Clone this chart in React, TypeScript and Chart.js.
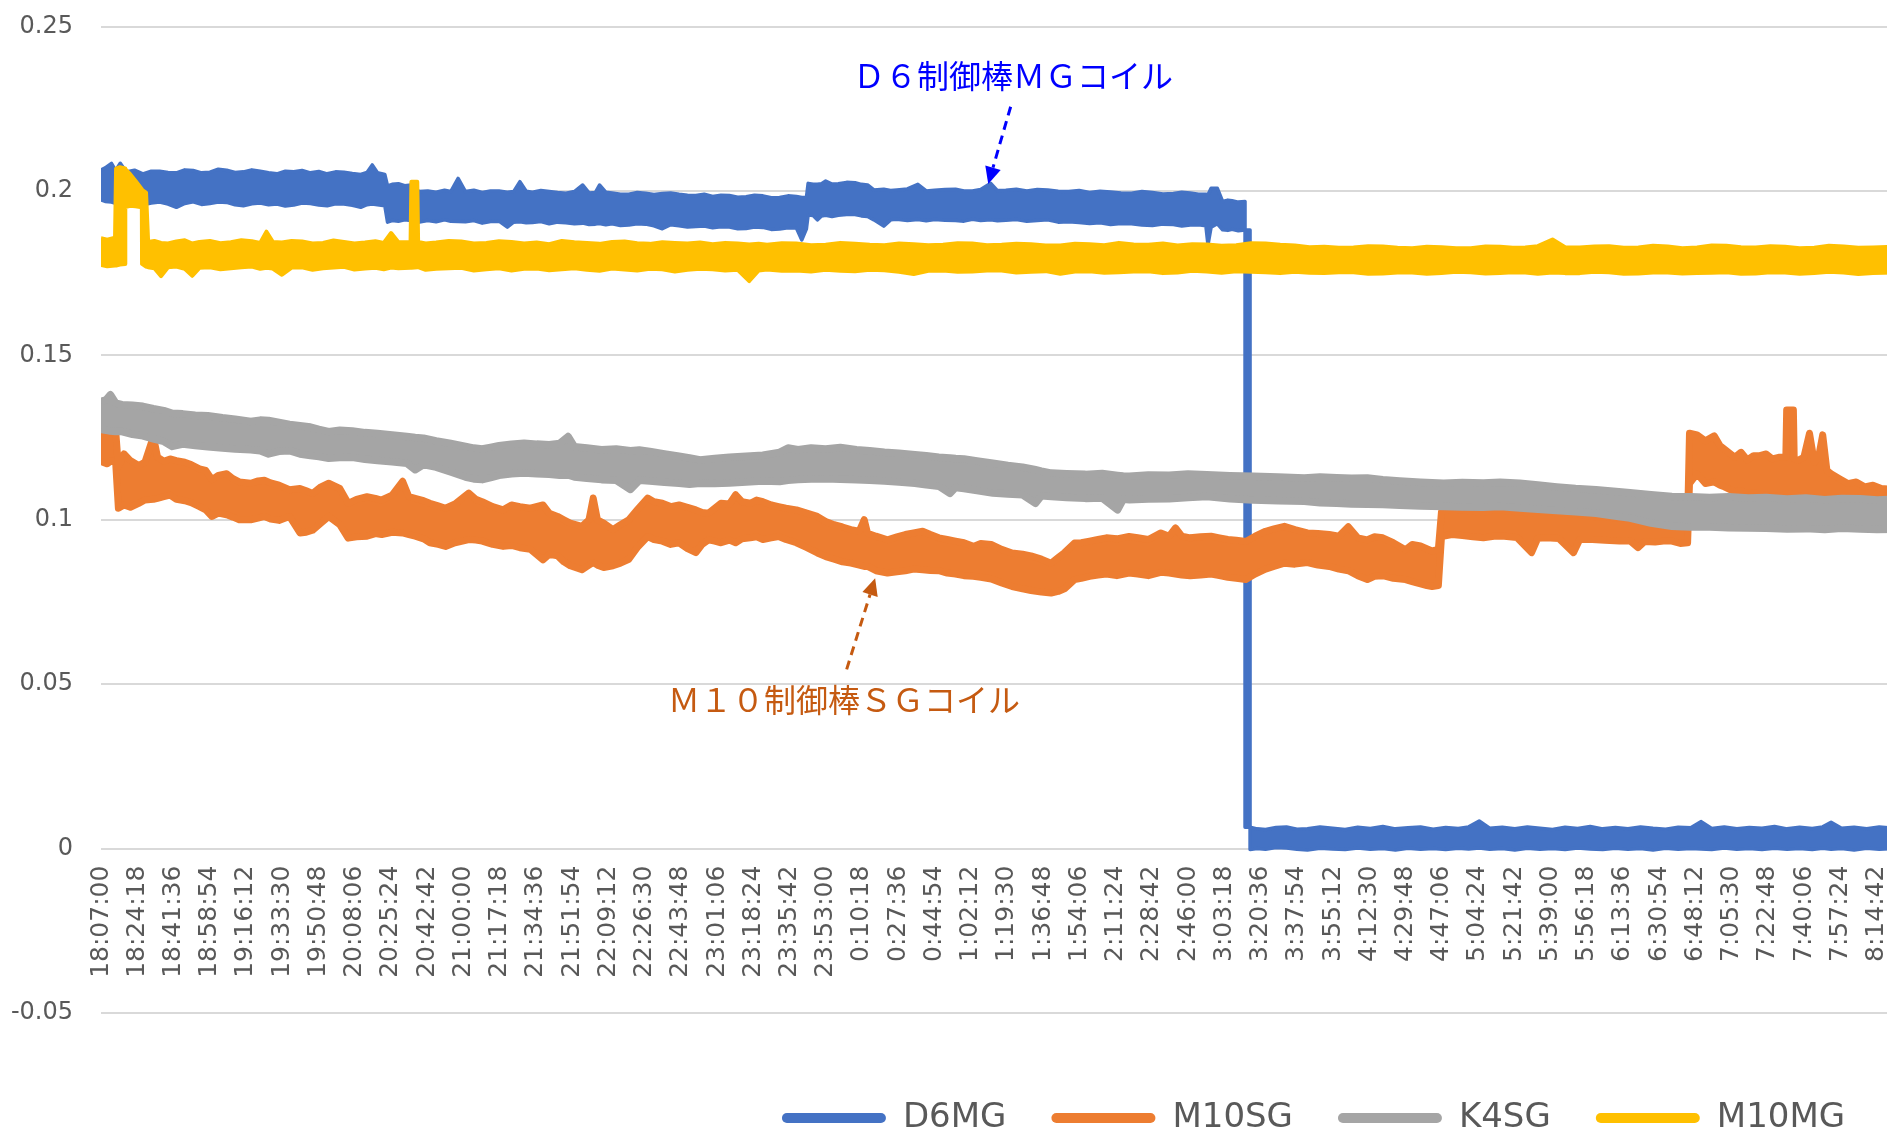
import React, { useEffect, useRef } from 'react';
import { Chart, registerables } from 'chart.js';

Chart.register(...registerables);

// ---------- axis data ----------
// x values are minutes elapsed since 18:07:00; one category label every 17 min 18 s
const TICK_STEP_MIN = 17.3;
const TICK_LABELS = [
  '18:07:00', '18:24:18', '18:41:36', '18:58:54', '19:16:12', '19:33:30', '19:50:48', '20:08:06',
  '20:25:24', '20:42:42', '21:00:00', '21:17:18', '21:34:36', '21:51:54', '22:09:12', '22:26:30',
  '22:43:48', '23:01:06', '23:18:24', '23:35:42', '23:53:00', '0:10:18', '0:27:36', '0:44:54',
  '1:02:12', '1:19:30', '1:36:48', '1:54:06', '2:11:24', '2:28:42', '2:46:00', '3:03:18',
  '3:20:36', '3:37:54', '3:55:12', '4:12:30', '4:29:48', '4:47:06', '5:04:24', '5:21:42',
  '5:39:00', '5:56:18', '6:13:36', '6:30:54', '6:48:12', '7:05:30', '7:22:48', '7:40:06',
  '7:57:24', '8:14:42',
];
const X_RANGE_MIN = 0;
const X_RANGE_MAX = 1206;
const Y_TICKS = [-0.05, 0, 0.05, 0.1, 0.15, 0.2, 0.25];
const Y_TICK_LABELS = ['-0.05', '0', '0.05', '0.1', '0.15', '0.2', '0.25'];

// ---------- series ----------
const SERIES_NAMES = ['D6MG', 'M10SG', 'K4SG', 'M10MG'];
const SERIES_COLORS = ['#4472C4', '#ED7D31', '#A5A5A5', '#FFC000'];
const SERIES_EDGE_WIDTHS = [3.5, 7, 7.5, 4];

// rows: [minutes, upper edge of noisy band, lower edge of noisy band]
const D6MG = [
  [0, 0.2064, 0.1973], [2, 0.2070, 0.1968], [5, 0.2084, 0.1966], [7, 0.2062, 0.1962], [9.2, 0.2084, 0.1967],
  [12, 0.2058, 0.1965], [16, 0.2063, 0.1960], [20, 0.2052, 0.1958], [24, 0.2060, 0.1963], [28, 0.2060, 0.1966],
  [32, 0.2056, 0.1960], [36, 0.2055, 0.1950], [40, 0.2064, 0.1962], [44, 0.2062, 0.1967], [48, 0.2055, 0.1959],
  [52, 0.2057, 0.1962], [56, 0.2066, 0.1966], [60, 0.2063, 0.1965], [64, 0.2056, 0.1958], [68, 0.2058, 0.1955],
  [72, 0.2064, 0.1961], [76, 0.2060, 0.1963], [80, 0.2055, 0.1958], [84, 0.2052, 0.1960], [88, 0.2060, 0.1954],
  [92, 0.2058, 0.1957], [96, 0.2062, 0.1963], [100, 0.2055, 0.1962], [104, 0.2059, 0.1957], [108, 0.2052, 0.1955],
  [112, 0.2058, 0.1961], [116, 0.2057, 0.1960], [120, 0.2053, 0.1956], [124, 0.2050, 0.1950], [127, 0.2056, 0.1958],
  [129.5, 0.2079, 0.1960], [132, 0.2055, 0.1958], [135.5, 0.2050, 0.1955], [136.8, 0.2015, 0.1905], [139, 0.2020, 0.1910],
  [142, 0.2022, 0.1908], [145, 0.2016, 0.1912], [148, 0.2018, 0.1910], [152, 0.1998, 0.1905], [156, 0.2000, 0.1910],
  [160, 0.1996, 0.1906], [164, 0.2002, 0.1912], [167, 0.1998, 0.1908], [170.5, 0.2038, 0.1907], [174, 0.1998, 0.1906],
  [178, 0.2002, 0.1910], [182, 0.1995, 0.1902], [186, 0.2000, 0.1907], [190, 0.2000, 0.1908], [194, 0.1996, 0.1890],
  [197, 0.1998, 0.1905], [200, 0.2028, 0.1906], [203, 0.1999, 0.1903], [206, 0.1996, 0.1904], [210, 0.2001, 0.1907],
  [214, 0.1998, 0.1900], [218, 0.1995, 0.1905], [222, 0.1993, 0.1903], [226, 0.1998, 0.1900], [230, 0.2018, 0.1902],
  [233, 0.1994, 0.1898], [236, 0.1995, 0.1899], [238, 0.2018, 0.1901], [241, 0.1996, 0.1897], [244, 0.1994, 0.1900],
  [248, 0.1990, 0.1895], [252, 0.1990, 0.1896], [256, 0.1995, 0.1900], [260, 0.1993, 0.1899], [264, 0.1989, 0.1894],
  [268, 0.1992, 0.1885], [272, 0.1994, 0.1897], [276, 0.1990, 0.1894], [280, 0.1987, 0.1890], [284, 0.1986, 0.1892],
  [288, 0.1990, 0.1893], [292, 0.1983, 0.1888], [296, 0.1987, 0.1891], [300, 0.1986, 0.1890], [304, 0.1981, 0.1885],
  [308, 0.1982, 0.1886], [312, 0.1987, 0.1890], [316, 0.1985, 0.1889], [320, 0.1979, 0.1883], [324, 0.1980, 0.1884],
  [328, 0.1985, 0.1888], [332, 0.1983, 0.1887], [334.6, 0.1980, 0.1851], [336.8, 0.1980, 0.1885], [337.6, 0.2023, 0.1927],
  [340, 0.2020, 0.1925], [342, 0.2020, 0.1912], [344, 0.2022, 0.1924], [346, 0.2030, 0.1926], [349, 0.2021, 0.1922],
  [352, 0.2022, 0.1926], [356, 0.2026, 0.1928], [360, 0.2025, 0.1928], [363, 0.2020, 0.1924], [366, 0.2018, 0.1922],
  [369, 0.2003, 0.1912], [373.7, 0.2005, 0.1893], [377, 0.2001, 0.1912], [380, 0.2003, 0.1914], [385, 0.2006, 0.1910],
  [390, 0.2020, 0.1913], [394, 0.2000, 0.1909], [398, 0.2002, 0.1913], [403, 0.2004, 0.1911], [408, 0.2005, 0.1910],
  [412, 0.2000, 0.1908], [416, 0.2000, 0.1914], [420, 0.2004, 0.1910], [424.8, 0.2023, 0.1912], [428, 0.2001, 0.1909],
  [432, 0.2002, 0.1911], [437, 0.2005, 0.1913], [442, 0.2000, 0.1908], [447, 0.2004, 0.1910], [452, 0.2003, 0.1912],
  [457, 0.1999, 0.1905], [462, 0.1998, 0.1906], [467, 0.2001, 0.1904], [472, 0.1995, 0.1901], [477, 0.1999, 0.1903],
  [482, 0.1997, 0.1898], [487, 0.1994, 0.1901], [492, 0.1993, 0.1900], [497, 0.1998, 0.1896], [502, 0.1995, 0.1895],
  [507, 0.1991, 0.1899], [512, 0.1992, 0.1898], [516, 0.1996, 0.1893], [520, 0.1994, 0.1896], [524, 0.1990, 0.1897],
  [527.5, 0.1990, 0.1894], [528.5, 0.1988, 0.1836], [530, 0.2008, 0.1890], [533, 0.2008, 0.1900], [535.5, 0.1968, 0.1882],
  [538, 0.1972, 0.1880], [540, 0.1970, 0.1883], [543, 0.1966, 0.1879], [546.2, 0.1968, 0.1881], [546.2, 0.0065, 0.1881],
  [548.6, 0.0065, 0.1881], [548.6, 0.0065, -0.0003], [552, 0.0060, 0.0000], [556, 0.0058, -0.0002], [561, 0.0064, 0.0003],
  [566, 0.0066, 0.0002], [571, 0.0059, -0.0002], [576, 0.0060, -0.0004], [582, 0.0066, 0.0001], [588, 0.0062, -0.0001],
  [594, 0.0058, -0.0003], [600, 0.0065, 0.0002], [606, 0.0061, -0.0002], [612, 0.0067, 0.0000], [618, 0.0060, -0.0004],
  [624, 0.0063, 0.0001], [630, 0.0066, -0.0002], [636, 0.0059, 0.0000], [642, 0.0064, -0.0003], [648, 0.0061, 0.0001],
  [653, 0.0066, -0.0001], [658, 0.0084, 0.0002], [663, 0.0062, -0.0002], [669, 0.0065, 0.0000], [675, 0.0060, -0.0004],
  [681, 0.0066, 0.0001], [687, 0.0062, -0.0002], [693, 0.0058, 0.0000], [699, 0.0065, -0.0003], [705, 0.0061, 0.0002],
  [711, 0.0067, -0.0001], [717, 0.0060, -0.0003], [723, 0.0064, 0.0001], [729, 0.0060, -0.0002], [735, 0.0066, 0.0000],
  [741, 0.0062, -0.0004], [747, 0.0059, 0.0001], [753, 0.0065, -0.0002], [759, 0.0063, 0.0000], [764, 0.0082, -0.0001],
  [769, 0.0061, -0.0003], [775, 0.0066, 0.0002], [781, 0.0060, -0.0002], [787, 0.0064, 0.0000], [793, 0.0062, -0.0003],
  [799, 0.0067, 0.0001], [805, 0.0060, -0.0002], [811, 0.0065, 0.0000], [817, 0.0061, -0.0003], [822, 0.0066, 0.0001],
  [826, 0.0080, -0.0002], [831, 0.0062, 0.0000], [837, 0.0065, -0.0004], [843, 0.0060, 0.0001], [849, 0.0066, -0.0002],
  [856, 0.0062, 0.0000],
];

const M10SG = [
  [0, 0.1274, 0.1177], [3, 0.1280, 0.1170], [5, 0.1265, 0.1180], [7, 0.1272, 0.1175], [8.3, 0.1160, 0.1035],
  [11, 0.1200, 0.1045], [14, 0.1180, 0.1038], [18, 0.1165, 0.1050], [21, 0.1175, 0.1060], [25, 0.1253, 0.1062],
  [27, 0.1190, 0.1065], [30, 0.1178, 0.1070], [33, 0.1185, 0.1075], [36, 0.1180, 0.1062], [40, 0.1175, 0.1058],
  [43, 0.1168, 0.1052], [47, 0.1155, 0.1040], [50, 0.1150, 0.1030], [53, 0.1122, 0.1010], [56, 0.1135, 0.1020],
  [60, 0.1140, 0.1015], [63, 0.1125, 0.1008], [66, 0.1115, 0.1000], [71.5, 0.1111, 0.1000], [75, 0.1118, 0.1005],
  [78, 0.1120, 0.1010], [81, 0.1112, 0.1002], [85, 0.1105, 0.0998], [90, 0.1091, 0.1010], [95, 0.1095, 0.0960],
  [98, 0.1088, 0.0962], [101, 0.1080, 0.0968], [105, 0.1100, 0.0990], [108.7, 0.1111, 0.1010], [114, 0.1095, 0.0985],
  [118, 0.1050, 0.0944], [122, 0.1062, 0.0948], [127, 0.1070, 0.0950], [131, 0.1065, 0.0958], [134, 0.1060, 0.0955],
  [139, 0.1075, 0.0962], [144, 0.1117, 0.0960], [147, 0.1070, 0.0955], [150, 0.1065, 0.0950], [154, 0.1058, 0.0942],
  [157, 0.1050, 0.0930], [161, 0.1042, 0.0925], [164.5, 0.1035, 0.0919], [169, 0.1048, 0.0930], [175.6, 0.1081, 0.0940],
  [179, 0.1062, 0.0938], [182, 0.1055, 0.0935], [187, 0.1040, 0.0925], [192, 0.1030, 0.0919], [196, 0.1045, 0.0922],
  [200, 0.1040, 0.0915], [205, 0.1035, 0.0910], [211, 0.1045, 0.0878], [214, 0.1020, 0.0895], [218, 0.1010, 0.0890],
  [221, 0.1000, 0.0872], [224, 0.0990, 0.0860], [229.6, 0.0980, 0.0848], [233, 0.1000, 0.0862], [235, 0.1066, 0.0870],
  [237, 0.1000, 0.0862], [240, 0.0990, 0.0855], [244.4, 0.0970, 0.0860], [248, 0.0985, 0.0868], [252, 0.1000, 0.0880],
  [256, 0.1030, 0.0915], [261, 0.1066, 0.0949], [264, 0.1055, 0.0940], [268, 0.1050, 0.0935], [272, 0.1040, 0.0925],
  [276, 0.1045, 0.0930], [280, 0.1038, 0.0912], [284, 0.1030, 0.0900], [287, 0.1022, 0.0925], [290, 0.1020, 0.0939],
  [293, 0.1035, 0.0935], [296, 0.1050, 0.0930], [300, 0.1048, 0.0938], [303, 0.1076, 0.0930], [306, 0.1055, 0.0942],
  [310, 0.1050, 0.0945], [313, 0.1060, 0.0948], [316, 0.1055, 0.0940], [320, 0.1045, 0.0945], [323.5, 0.1040, 0.0949],
  [327, 0.1035, 0.0940], [332, 0.1030, 0.0930], [337, 0.1020, 0.0915], [342, 0.1010, 0.0899], [346, 0.0995, 0.0888],
  [350, 0.0985, 0.0880], [354, 0.0978, 0.0872], [358, 0.0970, 0.0868], [362, 0.0965, 0.0862], [364.4, 0.1000, 0.0858],
  [366, 0.0959, 0.0858], [370, 0.0950, 0.0845], [375.5, 0.0939, 0.0838], [380, 0.0948, 0.0842], [384, 0.0955, 0.0845],
  [388, 0.0960, 0.0850], [392.3, 0.0965, 0.0848], [396, 0.0955, 0.0846], [400, 0.0945, 0.0845], [404, 0.0940, 0.0838],
  [408, 0.0935, 0.0835], [412, 0.0930, 0.0830], [416.5, 0.0919, 0.0828], [420, 0.0928, 0.0825], [425, 0.0925, 0.0820],
  [430, 0.0910, 0.0808], [435, 0.0899, 0.0797], [440, 0.0895, 0.0790], [444, 0.0890, 0.0785], [449, 0.0880, 0.0780],
  [453.6, 0.0868, 0.0777], [457, 0.0885, 0.0782], [460, 0.0900, 0.0790], [464.8, 0.0929, 0.0818], [468, 0.0930, 0.0822],
  [472, 0.0935, 0.0828], [476, 0.0940, 0.0832], [480, 0.0945, 0.0835], [485, 0.0942, 0.0830], [490.8, 0.0949, 0.0838],
  [495, 0.0945, 0.0835], [500, 0.0940, 0.0830], [506, 0.0960, 0.0840], [510, 0.0950, 0.0838], [513, 0.0975, 0.0835],
  [516, 0.0950, 0.0832], [520, 0.0945, 0.0830], [525, 0.0948, 0.0832], [530, 0.0950, 0.0835], [534, 0.0945, 0.0830],
  [538, 0.0940, 0.0825], [542, 0.0938, 0.0822], [546.6, 0.0934, 0.0818], [551, 0.0950, 0.0835], [556, 0.0965, 0.0850],
  [560, 0.0972, 0.0858], [565, 0.0980, 0.0868], [570, 0.0970, 0.0865], [576, 0.0960, 0.0870], [581, 0.0958, 0.0862],
  [586.4, 0.0955, 0.0858], [591, 0.0950, 0.0850], [595.5, 0.0979, 0.0845], [600, 0.0945, 0.0830], [604.6, 0.0939, 0.0818],
  [608, 0.0948, 0.0828], [612, 0.0945, 0.0830], [617, 0.0930, 0.0822], [622.8, 0.0909, 0.0818], [626, 0.0925, 0.0812],
  [630, 0.0920, 0.0805], [633, 0.0912, 0.0800], [635.5, 0.0905, 0.0797], [638.5, 0.0910, 0.0800], [640, 0.1025, 0.0949],
  [645, 0.1032, 0.0955], [650, 0.1030, 0.0952], [655, 0.1026, 0.0948], [660, 0.1022, 0.0945], [665, 0.1030, 0.0950],
  [670, 0.1028, 0.0950], [676, 0.1024, 0.0946], [683, 0.1020, 0.0900], [686, 0.1022, 0.0944], [690, 0.1025, 0.0945],
  [696, 0.1020, 0.0943], [703, 0.1018, 0.0900], [706, 0.1016, 0.0940], [712, 0.1010, 0.0940], [718, 0.1008, 0.0938],
  [725, 0.1005, 0.0935], [730, 0.1006, 0.0936], [733.8, 0.1002, 0.0915], [737, 0.1004, 0.0934], [742, 0.1000, 0.0932],
  [746, 0.1003, 0.0935], [750, 0.1003, 0.0935], [754, 0.1000, 0.0928], [757.5, 0.0998, 0.0930], [758.4, 0.1263, 0.1110],
  [762, 0.1258, 0.1140], [766, 0.1240, 0.1110], [770.2, 0.1255, 0.1115], [773, 0.1225, 0.1105], [775, 0.1215, 0.1100],
  [780, 0.1190, 0.1085], [783, 0.1205, 0.1088], [786, 0.1182, 0.1081], [789, 0.1195, 0.1082], [792, 0.1195, 0.1078],
  [795, 0.1200, 0.1075], [798, 0.1185, 0.1070], [801, 0.1190, 0.1072], [804.4, 0.1190, 0.1075], [804.8, 0.1334, 0.1078],
  [808, 0.1334, 0.1080], [808.4, 0.1185, 0.1078], [810, 0.1180, 0.1072], [813, 0.1190, 0.1070], [815.7, 0.1263, 0.1068],
  [818, 0.1175, 0.1065], [820, 0.1190, 0.1064], [822, 0.1258, 0.1062], [824, 0.1150, 0.1060], [826, 0.1140, 0.1060],
  [830, 0.1125, 0.1052], [834, 0.1110, 0.1045], [838, 0.1115, 0.1048], [842, 0.1100, 0.1045], [846, 0.1105, 0.1050],
  [850, 0.1095, 0.1050], [856, 0.1092, 0.1045],
];

const K4SG = [
  [0, 0.1360, 0.1275], [2.5, 0.1365, 0.1272], [4.5, 0.1380, 0.1270], [7, 0.1355, 0.1268], [10, 0.1350, 0.1268],
  [15, 0.1348, 0.1260], [20, 0.1345, 0.1255], [25, 0.1338, 0.1246], [30, 0.1332, 0.1238], [34, 0.1324, 0.1223],
  [39, 0.1322, 0.1230], [45, 0.1318, 0.1226], [51, 0.1316, 0.1222], [58, 0.1310, 0.1218], [64, 0.1306, 0.1215],
  [71.5, 0.1299, 0.1213], [76, 0.1303, 0.1210], [80, 0.1302, 0.1200], [85, 0.1296, 0.1208], [90, 0.1290, 0.1210],
  [95, 0.1286, 0.1200], [100, 0.1282, 0.1195], [104, 0.1275, 0.1192], [108.7, 0.1268, 0.1187], [114, 0.1272, 0.1189],
  [120, 0.1270, 0.1190], [126, 0.1265, 0.1184], [132, 0.1262, 0.1180], [139, 0.1258, 0.1176], [146, 0.1253, 0.1172],
  [150, 0.1250, 0.1152], [154, 0.1248, 0.1168], [160, 0.1240, 0.1160], [167, 0.1232, 0.1145], [174, 0.1223, 0.1130],
  [178, 0.1218, 0.1124], [182, 0.1215, 0.1122], [186, 0.1220, 0.1128], [190, 0.1225, 0.1135], [196, 0.1230, 0.1140],
  [202, 0.1233, 0.1142], [208, 0.1230, 0.1140], [214, 0.1228, 0.1138], [219, 0.1232, 0.1135], [223, 0.1253, 0.1136],
  [226, 0.1222, 0.1130], [232, 0.1218, 0.1126], [239, 0.1213, 0.1122], [246, 0.1215, 0.1120], [252.8, 0.1210, 0.1092],
  [257, 0.1212, 0.1120], [262, 0.1208, 0.1118], [269, 0.1200, 0.1114], [276, 0.1193, 0.1111], [281, 0.1188, 0.1108],
  [286, 0.1182, 0.1111], [293, 0.1186, 0.1110], [300, 0.1190, 0.1112], [308, 0.1193, 0.1115], [316, 0.1196, 0.1118],
  [324, 0.1205, 0.1116], [328, 0.1218, 0.1120], [332.8, 0.1213, 0.1122], [339, 0.1218, 0.1124], [346, 0.1215, 0.1125],
  [353, 0.1220, 0.1123], [360.7, 0.1213, 0.1122], [367, 0.1210, 0.1120], [374, 0.1205, 0.1118], [381, 0.1202, 0.1115],
  [388.6, 0.1198, 0.1111], [394, 0.1195, 0.1106], [400, 0.1190, 0.1102], [405.3, 0.1188, 0.1080], [408, 0.1186, 0.1098],
  [412, 0.1185, 0.1095], [419, 0.1178, 0.1088], [425.8, 0.1172, 0.1081], [433, 0.1165, 0.1078], [440, 0.1160, 0.1076],
  [446.2, 0.1152, 0.1050], [449, 0.1148, 0.1073], [453.7, 0.1142, 0.1071], [461, 0.1140, 0.1068], [470, 0.1138, 0.1065],
  [478, 0.1141, 0.1066], [485.3, 0.1135, 0.1030], [488, 0.1133, 0.1062], [491, 0.1132, 0.1061], [500, 0.1136, 0.1063],
  [510, 0.1135, 0.1064], [519, 0.1139, 0.1068], [528, 0.1137, 0.1071], [539, 0.1134, 0.1064], [550, 0.1132, 0.1060],
  [562, 0.1130, 0.1058], [574.5, 0.1127, 0.1056], [582, 0.1130, 0.1052], [590, 0.1128, 0.1050], [597, 0.1126, 0.1048],
  [604.6, 0.1127, 0.1047], [612, 0.1122, 0.1046], [620, 0.1118, 0.1044], [630, 0.1114, 0.1042], [641, 0.1111, 0.1040],
  [650, 0.1113, 0.1039], [660, 0.1112, 0.1038], [668, 0.1114, 0.1040], [677.4, 0.1111, 0.1036], [686, 0.1106, 0.1032],
  [695, 0.1100, 0.1028], [704, 0.1095, 0.1024], [713.8, 0.1091, 0.1020], [722, 0.1087, 0.1012], [730, 0.1082, 0.1005],
  [740, 0.1076, 0.0990], [750, 0.1071, 0.0980], [759, 0.1070, 0.0978], [768, 0.1068, 0.0978], [777, 0.1070, 0.0976],
  [786.6, 0.1066, 0.0975], [795, 0.1068, 0.0974], [805, 0.1063, 0.0972], [814, 0.1066, 0.0973], [823, 0.1061, 0.0970],
  [831, 0.1065, 0.0974], [840, 0.1064, 0.0972], [848, 0.1060, 0.0970], [856, 0.1062, 0.0971],
];

const M10MG = [
  [0, 0.1856, 0.1775], [3, 0.1852, 0.1771], [6.7, 0.1858, 0.1773], [7.2, 0.2068, 0.1773], [9, 0.2072, 0.1776],
  [11.5, 0.2068, 0.1778], [11.6, 0.2066, 0.1951], [14, 0.2050, 0.1955], [16.5, 0.2030, 0.1953], [19.5, 0.2005, 0.1950],
  [19.6, 0.2003, 0.1778], [21.5, 0.1995, 0.1770], [22.5, 0.1845, 0.1768], [25.5, 0.1848, 0.1765], [28.7, 0.1842, 0.1741],
  [32, 0.1840, 0.1768], [36, 0.1846, 0.1770], [40, 0.1850, 0.1763], [43.6, 0.1840, 0.1742], [47, 0.1845, 0.1766],
  [52, 0.1848, 0.1768], [57, 0.1841, 0.1762], [62, 0.1844, 0.1765], [67, 0.1850, 0.1768], [72, 0.1847, 0.1770],
  [76, 0.1842, 0.1763], [79, 0.1876, 0.1766], [82, 0.1845, 0.1764], [86.4, 0.1843, 0.1745], [91, 0.1848, 0.1767],
  [96, 0.1846, 0.1768], [101, 0.1840, 0.1760], [106, 0.1842, 0.1765], [111, 0.1849, 0.1767], [116, 0.1845, 0.1769],
  [121, 0.1840, 0.1761], [126, 0.1843, 0.1764], [131, 0.1847, 0.1766], [135, 0.1842, 0.1762], [138.5, 0.1872, 0.1767],
  [142, 0.1844, 0.1765], [147.8, 0.1845, 0.1766], [148.2, 0.2028, 0.1766], [151, 0.2028, 0.1768], [151.4, 0.1845, 0.1768],
  [155, 0.1840, 0.1760], [160, 0.1843, 0.1763], [166, 0.1848, 0.1765], [172, 0.1846, 0.1766], [178, 0.1840, 0.1758],
  [184, 0.1842, 0.1762], [190, 0.1847, 0.1765], [196, 0.1845, 0.1758], [202, 0.1840, 0.1763], [208, 0.1843, 0.1764],
  [214, 0.1838, 0.1759], [220, 0.1848, 0.1762], [226, 0.1844, 0.1765], [232, 0.1842, 0.1760], [238, 0.1839, 0.1757],
  [244, 0.1845, 0.1764], [250, 0.1846, 0.1761], [256, 0.1841, 0.1758], [262, 0.1839, 0.1763], [268, 0.1844, 0.1762],
  [274, 0.1842, 0.1755], [280, 0.1840, 0.1760], [286, 0.1843, 0.1763], [292, 0.1838, 0.1762], [298, 0.1842, 0.1758],
  [304, 0.1840, 0.1760], [309.5, 0.1837, 0.1726], [314, 0.1839, 0.1758], [318, 0.1836, 0.1761], [325, 0.1841, 0.1757],
  [332, 0.1840, 0.1758], [339, 0.1835, 0.1755], [346, 0.1836, 0.1760], [353, 0.1842, 0.1757], [360, 0.1839, 0.1756],
  [367, 0.1836, 0.1760], [374, 0.1835, 0.1759], [381, 0.1840, 0.1754], [388, 0.1838, 0.1747], [395, 0.1835, 0.1757],
  [402, 0.1836, 0.1758], [409, 0.1841, 0.1754], [416, 0.1840, 0.1755], [423, 0.1835, 0.1758], [430, 0.1836, 0.1758],
  [437, 0.1839, 0.1752], [444, 0.1838, 0.1754], [451, 0.1834, 0.1756], [458, 0.1834, 0.1748], [465, 0.1839, 0.1755],
  [472, 0.1838, 0.1756], [479, 0.1835, 0.1751], [486, 0.1842, 0.1753], [493, 0.1837, 0.1755], [500, 0.1836, 0.1756],
  [507, 0.1840, 0.1750], [514, 0.1834, 0.1752], [521, 0.1838, 0.1757], [528, 0.1837, 0.1755], [535, 0.1833, 0.1751],
  [542, 0.1835, 0.1756], [549, 0.1841, 0.1754], [556, 0.1840, 0.1753], [563, 0.1836, 0.1750], [570, 0.1834, 0.1754],
  [577, 0.1829, 0.1751], [584, 0.1830, 0.1750], [591, 0.1827, 0.1753], [598, 0.1828, 0.1753], [605, 0.1832, 0.1748],
  [612, 0.1831, 0.1749], [619, 0.1827, 0.1752], [626, 0.1826, 0.1752], [633, 0.1830, 0.1748], [640, 0.1829, 0.1750],
  [647, 0.1826, 0.1754], [654, 0.1826, 0.1753], [661, 0.1831, 0.1749], [668, 0.1830, 0.1750], [674, 0.1827, 0.1753],
  [680, 0.1828, 0.1752], [686, 0.1832, 0.1748], [693, 0.1852, 0.1752], [699, 0.1829, 0.1750], [706, 0.1828, 0.1750],
  [713, 0.1831, 0.1754], [720, 0.1832, 0.1753], [727, 0.1827, 0.1748], [734, 0.1828, 0.1749], [741, 0.1833, 0.1752],
  [748, 0.1831, 0.1752], [755, 0.1826, 0.1749], [762, 0.1828, 0.1750], [769, 0.1834, 0.1751], [776, 0.1833, 0.1753],
  [783, 0.1829, 0.1748], [790, 0.1828, 0.1749], [797, 0.1832, 0.1753], [804, 0.1830, 0.1752], [811, 0.1826, 0.1748],
  [818, 0.1827, 0.1750], [825, 0.1833, 0.1754], [832, 0.1831, 0.1752], [839, 0.1827, 0.1747], [846, 0.1828, 0.1750],
  [856, 0.1830, 0.1752],
];

// callouts, anchored in data coordinates: [minutes, value]
const NOTES = [
  { text: 'Ｄ６制御棒ＭＧコイル', color: '#0000FF', label: [359.0, 0.2349], from: [434.3, 0.2256], to: [423.6, 0.2021] },
  { text: 'Ｍ１０制御棒ＳＧコイル', color: '#C55A11', label: [270.7, 0.0452], from: [356.0, 0.0545], to: [369.6, 0.0822] },
];

const VIEW_W = 1887;
const VIEW_H = 1130;
const CANVAS_W = 2627;
const CANVAS_H = 1145;
const LEGEND_H = 132;

const notesPlugin = {
  id: 'calloutNotes',
  afterDatasetsDraw(chart: any) {
    const { ctx } = chart;
    const xs = chart.scales.x;
    const ys = chart.scales.y;
    NOTES.forEach((n) => {
      ctx.save();
      ctx.fillStyle = n.color;
      ctx.strokeStyle = n.color;
      ctx.font = '32px "Noto Sans CJK JP", sans-serif';
      ctx.textAlign = 'left';
      ctx.textBaseline = 'middle';
      ctx.fillText(n.text, xs.getPixelForValue(n.label[0]), ys.getPixelForValue(n.label[1]));

      const x1 = xs.getPixelForValue(n.from[0]);
      const y1 = ys.getPixelForValue(n.from[1]);
      const x2 = xs.getPixelForValue(n.to[0]);
      const y2 = ys.getPixelForValue(n.to[1]);
      const ang = Math.atan2(y2 - y1, x2 - x1);
      const headLen = 17;
      const headHalf = 8;
      const bx = x2 - headLen * Math.cos(ang);
      const by = y2 - headLen * Math.sin(ang);
      ctx.lineWidth = 3;
      ctx.setLineDash([9, 6]);
      ctx.beginPath();
      ctx.moveTo(x1, y1);
      ctx.lineTo(bx, by);
      ctx.stroke();
      ctx.setLineDash([]);
      ctx.beginPath();
      ctx.moveTo(x2, y2);
      ctx.lineTo(bx + headHalf * Math.sin(ang), by - headHalf * Math.cos(ang));
      ctx.lineTo(bx - headHalf * Math.sin(ang), by + headHalf * Math.cos(ang));
      ctx.closePath();
      ctx.fill();
      ctx.restore();
    });
  },
};

export default function App() {
  const canvasRef = useRef<HTMLCanvasElement>(null);

  useEffect(() => {
    const canvas = canvasRef.current;
    if (!canvas) return;
    Chart.defaults.font.family = '"DejaVu Sans", sans-serif';

    const allRows = [D6MG, M10SG, K4SG, M10MG];
    const datasets: any[] = [];
    allRows.forEach((rows, s) => {
      const color = SERIES_COLORS[s];
      const width = SERIES_EDGE_WIDTHS[s];
      const order = allRows.length - s;
      datasets.push({
        label: SERIES_NAMES[s] + ' (upper)',
        data: rows.map((r) => ({ x: r[0], y: r[1] })),
        borderColor: color,
        backgroundColor: color,
        borderWidth: width,
        borderJoinStyle: 'round',
        pointRadius: 0,
        tension: 0,
        fill: false,
        order,
      });
      datasets.push({
        label: SERIES_NAMES[s],
        data: rows.map((r) => ({ x: r[0], y: r[2] })),
        borderColor: color,
        backgroundColor: color,
        borderWidth: width,
        borderJoinStyle: 'round',
        pointRadius: 0,
        tension: 0,
        fill: '-1',
        order,
      });
    });

    const chart = new Chart(canvas, {
      type: 'line',
      data: { datasets },
      options: {
        animation: false,
        responsive: false,
        devicePixelRatio: 1,
        events: [],
        layout: { padding: { top: 26.5, left: 0, right: 0, bottom: 0 } },
        plugins: {
          tooltip: { enabled: false },
          legend: {
            display: true,
            position: 'bottom',
            align: 'center',
            maxHeight: LEGEND_H,
            title: { display: true, text: '', font: { size: 10 }, padding: { top: 0, bottom: 31 } },
            labels: {
              boxWidth: 104,
              boxHeight: 10,
              padding: 45,
              color: '#595959',
              font: { size: 34 },
              useBorderRadius: true,
              borderRadius: 5,
              generateLabels: () =>
                SERIES_NAMES.map((name, i) => ({
                  text: name,
                  fillStyle: SERIES_COLORS[i],
                  strokeStyle: SERIES_COLORS[i],
                  lineWidth: 0,
                  fontColor: '#595959',
                  hidden: false,
                  datasetIndex: i * 2 + 1,
                  borderRadius: 5,
                })),
            },
          },
        },
        scales: {
          x: {
            type: 'linear',
            position: { y: 0 },
            min: X_RANGE_MIN,
            max: X_RANGE_MAX,
            grid: { display: false, drawTicks: false },
            border: { display: false },
            afterBuildTicks: (scale: any) => {
              scale.ticks = TICK_LABELS.map((_, i) => ({ value: i * TICK_STEP_MIN }));
            },
            afterFit: (scale: any) => {
              scale.height = 0;
              scale.paddingLeft = 0;
              scale.paddingRight = 0;
            },
            ticks: {
              autoSkip: false,
              minRotation: 90,
              maxRotation: 90,
              padding: 17,
              color: '#595959',
              font: { size: 25 },
              callback: (_v: any, i: number) => TICK_LABELS[i],
            },
          },
          y: {
            type: 'linear',
            position: 'left',
            min: Y_TICKS[0],
            max: Y_TICKS[Y_TICKS.length - 1],
            grid: { color: '#D9D9D9', lineWidth: 2, drawTicks: false },
            border: { display: false },
            afterBuildTicks: (scale: any) => {
              scale.ticks = Y_TICKS.map((v) => ({ value: v }));
            },
            afterFit: (scale: any) => {
              scale.width = 101;
              scale.paddingTop = 0;
              scale.paddingBottom = 0;
            },
            ticks: {
              padding: 28,
              color: '#595959',
              font: { size: 24 },
              callback: (_v: any, i: number) => Y_TICK_LABELS[i],
            },
          },
        },
      } as any,
      plugins: [notesPlugin],
    });

    return () => chart.destroy();
  }, []);

  return (
    <div
      style={{
        position: 'fixed',
        left: 0,
        top: 0,
        width: VIEW_W,
        height: VIEW_H,
        overflow: 'hidden',
        background: '#ffffff',
      }}
    >
      <canvas ref={canvasRef} width={CANVAS_W} height={CANVAS_H} style={{ display: 'block' }} />
    </div>
  );
}
